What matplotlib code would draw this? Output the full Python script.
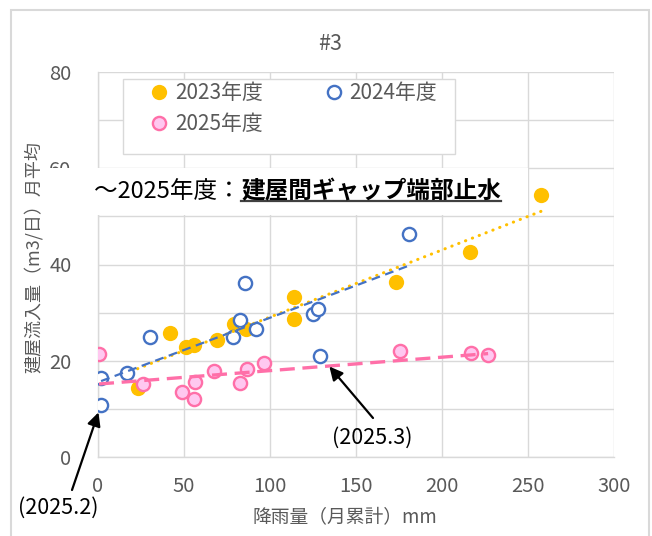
import numpy as np
import matplotlib
matplotlib.use('Agg')
import matplotlib.pyplot as plt
from matplotlib.patches import Rectangle
from matplotlib.lines import Line2D

plt.rcParams['font.family'] = ['Noto Sans CJK JP', 'DejaVu Sans']

title = "#3"
x_label = "降雨量（月累計）mm"
y_label = "建屋流入量（m3/日）月平均"
series_names = ["2023年度", "2024年度", "2025年度"]
note_prefix = "～2025年度："
note_bold = "建屋間ギャップ端部止水"
label_feb = "(2025.2)"
label_mar = "(2025.3)"

x_ticks = [0, 50, 100, 150, 200, 250, 300]
y_ticks = [0, 20, 40, 60, 80]

x_2023 = [23.0, 41.7, 50.9, 55.8, 69.4, 79.1, 86.0, 113.7, 113.7, 173.3, 216.0, 257.6]
y_2023 = [14.3, 25.7, 22.9, 23.2, 24.4, 27.7, 26.5, 33.3, 28.6, 36.4, 42.6, 54.5]

x_2024 = [1.8, 1.8, 16.8, 30.0, 78.2, 82.7, 85.6, 91.8, 125.0, 127.9, 129.3, 181.1]
y_2024 = [10.9, 16.5, 17.4, 25.0, 25.0, 28.4, 36.2, 26.6, 29.8, 30.8, 21.0, 46.4]

x_2025 = [0.6, 26.1, 48.6, 55.8, 56.3, 67.5, 82.7, 86.4, 96.3, 175.7, 217.0, 226.8]
y_2025 = [21.5, 15.1, 13.5, 12.0, 15.5, 17.9, 15.4, 18.3, 19.6, 22.1, 21.6, 21.2]

# points pointed at by arrows (2024年度 series)
feb_point = (x_2024[0], y_2024[0])
mar_point = (x_2024[10], y_2024[10])

GRAY = '#595959'
GRID = '#d9d9d9'
C23 = '#FFC000'
C24 = '#4472C4'
C25E = '#FF6FA8'
C25F = '#FFC8F0'

W, H = 652, 536
fig = plt.figure(figsize=(W / 100, H / 100), dpi=100)
ax = fig.add_axes([98 / W, 79 / H, 516 / W, 385 / H])

ax.set_xlim(0, 300)
ax.set_ylim(0, 80)
ax.set_xticks(x_ticks)
ax.set_yticks(y_ticks)
ax.set_yticks([10, 30, 50, 70], minor=True)
ax.grid(True, which='both', color=GRID, lw=1.0, zorder=0)
ax.set_axisbelow(True)
for s in ['top', 'right']:
    ax.spines[s].set_visible(False)
for s in ['left', 'bottom']:
    ax.spines[s].set_color(GRID)
    ax.spines[s].set_linewidth(1.0)
ax.tick_params(axis='both', which='both', length=0, labelcolor=GRAY, labelsize=14.5)
ax.tick_params(axis='y', pad=19)
ax.tick_params(axis='x', pad=14)

h23, = ax.plot(x_2023, y_2023, 'o', ls='none', color=C23, ms=11, mec=C23, mew=0, zorder=3)
h24, = ax.plot(x_2024, y_2024, 'o', ls='none', mfc='white', mec=C24, ms=9.5, mew=1.7, zorder=3)
h25, = ax.plot(x_2025, y_2025, 'o', ls='none', mfc=C25F, mec=C25E, ms=9.5, mew=1.7, zorder=3)

def trend(xs, ys):
    xs = np.asarray(xs); ys = np.asarray(ys)
    k, b = np.polyfit(xs, ys, 1)
    xx = np.array([xs.min(), xs.max()])
    return xx, k * xx + b

xx, yy = trend(x_2023, y_2023)
ax.plot(xx, yy, color=C23, lw=2.2, ls=(0, (0.1, 2.3)), dash_capstyle='round', zorder=4)
xx, yy = trend(x_2024, y_2024)
ax.plot(xx, yy, color=C24, lw=1.6, ls=(0, (4, 2.5)), zorder=4)
xx, yy = trend(x_2025, y_2025)
ax.plot(xx, yy, color=C25E, lw=2.4, ls=(0, (4.5, 2.3)), zorder=4)

# legend box
ax.add_patch(Rectangle((25 / 516, (457 - 154) / 385), 332 / 516, 75 / 385,
                       transform=ax.transAxes, facecolor='white', edgecolor=GRID,
                       lw=1.0, zorder=5))
leg = ax.legend([h23, h25, h24], [series_names[0], series_names[2], series_names[1]],
                ncol=2, loc='upper left', bbox_to_anchor=((149 - 98) / 516, (457 - 82) / 385),
                frameon=False, fontsize=15, borderpad=0, borderaxespad=0,
                handlelength=1.0, handletextpad=0.25, columnspacing=2.9,
                labelspacing=0.45, labelcolor=GRAY)
leg.set_zorder(6)

# arrows and labels
ax.annotate('', xy=feb_point, xycoords='data', xytext=(72, H - 490), textcoords='figure pixels',
            arrowprops=dict(arrowstyle='-|>', color='black', lw=1.6, mutation_scale=20,
                            shrinkA=0, shrinkB=6), annotation_clip=False, zorder=7)
ax.annotate('', xy=mar_point, xycoords='data', xytext=(373, H - 418), textcoords='figure pixels',
            arrowprops=dict(arrowstyle='-|>', color='black', lw=1.6, mutation_scale=20,
                            shrinkA=0, shrinkB=10), annotation_clip=False, zorder=7)
fig.text(58 / W, 1 - 508 / H, label_feb, ha='center', va='center', fontsize=15.5, color='black')
fig.text(372 / W, 1 - 438 / H, label_mar, ha='center', va='center', fontsize=15.5, color='black')

# title and axis labels
fig.text(330 / W, 1 - 44 / H, title, ha='center', va='center', fontsize=15.5, color=GRAY)
fig.text(345 / W, 1 - 517 / H, x_label, ha='center', va='center', fontsize=13.5, color=GRAY)
fig.text(33 / W, 1 - 257 / H, y_label, ha='center', va='center', fontsize=13, color=GRAY,
         rotation=90)

# white note box
fig.patches.append(Rectangle((45 / W, 1 - 215 / H), 483 / W, 47 / H, transform=fig.transFigure,
                             facecolor='white', edgecolor='none', zorder=1))
t1 = fig.text(241 / W, 1 - 198 / H, note_prefix, ha='right', va='baseline', fontsize=17,
              color='black', zorder=3)
t2 = fig.text(241 / W, 1 - 198 / H, note_bold, ha='left', va='baseline', fontsize=17,
              fontweight='bold', color='black', zorder=3)

# outer chart border
fig.patches.append(Rectangle((11 / W, -0.05), 638 / W, 1.05 - 10 / H, transform=fig.transFigure,
                             facecolor='none', edgecolor=GRID, lw=1.5, zorder=0.5))

fig.canvas.draw()
bb = t2.get_window_extent(renderer=fig.canvas.get_renderer())
uy = H - 201
fig.add_artist(Line2D([bb.x0 / W, bb.x1 / W], [uy / H, uy / H], transform=fig.transFigure,
                      color='#404040', lw=1.6, zorder=3))

fig.savefig('out.png', dpi=100)
